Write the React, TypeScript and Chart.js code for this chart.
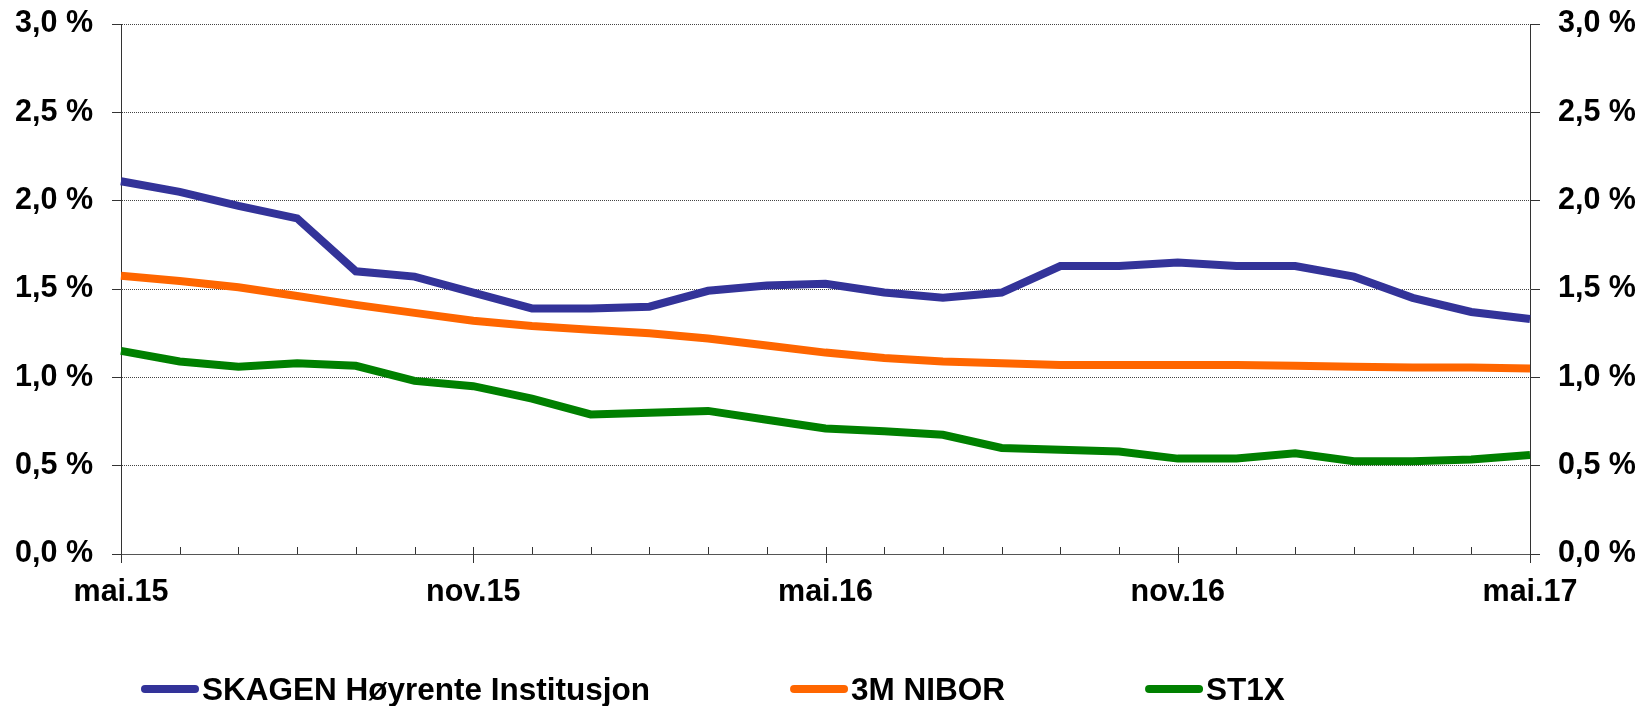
import React, { useEffect, useRef } from 'react';
import { Chart, registerables } from 'chart.js';

Chart.register(...registerables);

const months = [
  'mai.15', 'jun.15', 'jul.15', 'aug.15', 'sep.15', 'okt.15', 'nov.15', 'des.15', 'jan.16',
  'feb.16', 'mar.16', 'apr.16', 'mai.16', 'jun.16', 'jul.16', 'aug.16', 'sep.16', 'okt.16',
  'nov.16', 'des.16', 'jan.17', 'feb.17', 'mar.17', 'apr.17', 'mai.17',
];
const tickLabels = ['mai.15', 'nov.15', 'mai.16', 'nov.16', 'mai.17'];
const seriesNames = ['SKAGEN Høyrente Institusjon', '3M NIBOR', 'ST1X'];
const skagen = [2.11, 2.05, 1.97, 1.9, 1.6, 1.57, 1.48, 1.39, 1.39, 1.4, 1.49, 1.52, 1.53, 1.48, 1.45, 1.48, 1.63, 1.63, 1.65, 1.63, 1.63, 1.57, 1.45, 1.37, 1.33];
const nibor = [1.575, 1.545, 1.51, 1.46, 1.41, 1.365, 1.32, 1.29, 1.27, 1.25, 1.22, 1.18, 1.14, 1.11, 1.09, 1.08, 1.07, 1.07, 1.07, 1.07, 1.065, 1.06, 1.055, 1.055, 1.05];
const st1x = [1.15, 1.09, 1.06, 1.08, 1.065, 0.98, 0.95, 0.88, 0.79, 0.8, 0.81, 0.76, 0.71, 0.695, 0.675, 0.6, 0.59, 0.58, 0.54, 0.54, 0.57, 0.525, 0.525, 0.535, 0.56];
const yMin = 0;
const yMax = 3;
const yStep = 0.5;

const FONT = "'Liberation Sans', Arial, Helvetica, sans-serif";
const COLORS = ['#333399', '#FF6600', '#008000'];

const fmtPct = (v: number | string) => Number(v).toFixed(1).replace('.', ',') + ' %';

const xTickPlugin = {
  id: 'xTickMarks',
  afterDraw(chart: any) {
    const { ctx, chartArea } = chart;
    const xs = chart.scales.x;
    ctx.save();
    ctx.strokeStyle = '#333';
    ctx.lineWidth = 1;
    months.forEach((m, i) => {
      const x = Math.round(xs.getPixelForValue(i)) + 0.5;
      const major = tickLabels.includes(m);
      ctx.beginPath();
      ctx.moveTo(x, chartArea.bottom - 7);
      ctx.lineTo(x, major ? chartArea.bottom + 9 : chartArea.bottom);
      ctx.stroke();
    });
    ctx.restore();
  },
};

const legendPlugin = {
  id: 'lineLegend',
  afterDraw(chart: any) {
    const ctx = chart.ctx;
    ctx.save();
    ctx.font = `bold 31.5px ${FONT}`;
    ctx.textBaseline = 'alphabetic';
    ctx.textAlign = 'left';
    let x = 141;
    const yLine = 689;
    const yText = 700;
    chart.data.datasets.forEach((ds: any) => {
      ctx.strokeStyle = ds.borderColor;
      ctx.lineWidth = 8;
      ctx.lineCap = 'round';
      ctx.beginPath();
      ctx.moveTo(x + 4, yLine);
      ctx.lineTo(x + 54, yLine);
      ctx.stroke();
      ctx.fillStyle = '#000';
      ctx.fillText(ds.label, x + 61, yText);
      x += 61 + ctx.measureText(ds.label).width + 140;
    });
    ctx.restore();
  },
};

export default function App() {
  const ref = useRef<HTMLCanvasElement>(null);

  useEffect(() => {
    if (!ref.current) return;
    const tickFont = { family: FONT, size: 30.5, weight: 'bold' as const };
    const yScaleBase = {
      type: 'linear' as const,
      min: yMin,
      max: yMax,
      ticks: {
        stepSize: yStep,
        color: '#000',
        font: tickFont,
        callback: (v: any) => fmtPct(v),
      },
    };
    const chart = new Chart(ref.current, {
      type: 'line',
      data: {
        labels: months,
        datasets: [skagen, nibor, st1x].map((d, i) => ({
          label: seriesNames[i],
          data: d,
          borderColor: COLORS[i],
          backgroundColor: COLORS[i],
          borderWidth: 8,
          pointRadius: 0,
          tension: 0,
          fill: false,
          yAxisID: 'y',
        })),
      },
      options: {
        animation: false,
        responsive: false,
        devicePixelRatio: 1,
        layout: { padding: { top: 24, left: 0, right: 0, bottom: 0 } },
        plugins: {
          legend: { display: false },
          tooltip: { enabled: false },
        },
        scales: {
          x: {
            type: 'category',
            offset: false,
            grid: { display: false, drawTicks: false },
            border: { display: true, color: '#555', width: 1 },
            ticks: {
              autoSkip: false,
              maxRotation: 0,
              minRotation: 0,
              padding: 20,
              color: '#000',
              font: tickFont,
              callback: (_v: any, i: number) => (tickLabels.includes(months[i]) ? months[i] : ''),
            },
            afterFit: (s: any) => {
              s.height = 152;
              s.paddingLeft = 0;
              s.paddingRight = 0;
            },
          },
          y: {
            ...yScaleBase,
            position: 'left',
            grid: {
              color: '#444',
              lineWidth: 1,
              drawTicks: true,
              tickLength: 9,
              tickColor: '#333',
              tickBorderDash: [],
            },
            border: { display: true, color: '#333', width: 1, dash: [1, 1] },
            ticks: { ...yScaleBase.ticks, padding: 19 },
            afterFit: (s: any) => {
              s.width = 121;
              s.paddingTop = 0;
              s.paddingBottom = 0;
            },
          },
          y2: {
            ...yScaleBase,
            position: 'right',
            grid: {
              drawOnChartArea: false,
              drawTicks: true,
              tickLength: 10,
              tickColor: '#333',
              tickBorderDash: [],
            },
            border: { display: true, color: '#333', width: 1 },
            ticks: { ...yScaleBase.ticks, padding: 18 },
            afterFit: (s: any) => {
              s.width = 112;
              s.paddingTop = 0;
              s.paddingBottom = 0;
            },
          },
        },
      },
      plugins: [xTickPlugin, legendPlugin],
    });
    return () => chart.destroy();
  }, []);

  return (
    <div style={{ position: 'fixed', left: 0, top: 0, width: 1642, height: 706, background: '#fff' }}>
      <canvas ref={ref} width={1642} height={706} style={{ display: 'block' }} />
    </div>
  );
}
